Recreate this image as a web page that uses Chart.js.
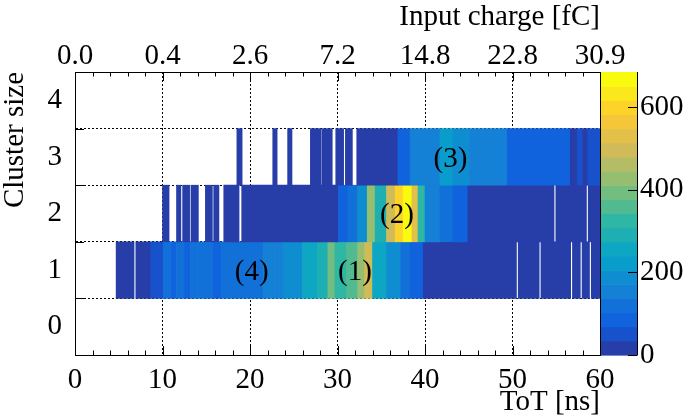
<!DOCTYPE html>
<html>
<head>
<meta charset="utf-8">
<script src="https://cdn.jsdelivr.net/npm/chart.js@4.4.0/dist/chart.umd.min.js"></script>
<style>
  html, body { margin: 0; padding: 0; background: #fff; }
  #wrap { width: 685px; height: 419px; }
</style>
</head>
<body>
<div id="wrap"><canvas id="tot-cluster"></canvas></div>
<script>
// axes
const totTicks = [0, 10, 20, 30, 40, 50, 60];
const chargeLabels = ['0.0', '0.4', '2.6', '7.2', '14.8', '22.8', '30.9'];
const clusterSizes = ['0', '1', '2', '3', '4'];
const zTicks = [0, 200, 400, 600];
const zMax = 685;
const nContours = 20;

// cluster size 1: bin edges in ns, entries per bin
const row1Edges = [4.7, 6.75, 6.95, 8.65, 10.1, 11.0, 11.6, 12.5, 13.2, 14.0, 15.0, 15.8, 16.7, 17.6, 18.5,
  20.0, 21.5, 22.8, 23.8, 24.8, 26.0, 27.7, 28.9, 29.7, 31.0, 32.3, 33.1, 34.0, 35.6, 37.2, 38.3, 39.8,
  50.45, 50.65, 53.05, 53.25, 56.65, 56.85, 57.75, 57.95, 58.8, 59.0, 60.0];
const row1Counts = [15, 0, 20, 60, 110, 95, 115, 100, 120, 105, 125, 100, 120, 105, 115,
  125, 140, 150, 190, 205, 260, 300, 400, 340, 360, 430, 495, 260, 190, 120, 80,
  25, 0, 22, 0, 18, 0, 15, 0, 14, 0, 12];

// cluster size 2
const row2Edges = [10.0, 10.75, 11.6, 12.1, 12.3, 13.1, 13.25, 14.1, 14.9, 15.7, 15.85, 16.45, 17.0, 18.75,
  19.05, 30.1, 31.2, 32.3, 33.4, 34.3, 35.6, 36.6, 37.5, 38.5, 39.2, 40.0, 41.7, 43.2, 44.9,
  54.75, 54.95, 58.45, 58.65, 60.0];
const row2Counts = [10, 0, 8, 0, 10, 0, 9, 0, 11, 0, 10, 0, 12, 0,
  20, 80, 120, 190, 430, 290, 495, 600, 675, 530, 325, 155, 120, 80,
  20, 0, 15, 0, 12];

// cluster size 3
const row3Edges = [18.5, 19.1, 22.6, 23.1, 24.3, 24.8, 26.9, 28.1, 28.2, 29.4, 29.8, 30.7, 30.9, 31.7,
  32.2, 36.9, 38.3, 40.0, 41.7, 43.2, 45.1, 49.4, 56.6, 57.4, 58.0, 58.6, 60.0];
const row3Counts = [8, 0, 8, 0, 8, 0, 10, 0, 10, 0, 12, 0, 12, 0,
  25, 100, 150, 170, 230, 190, 140, 70, 30, 55, 25, 40];

// peak labels
const annoText = ['(1)', '(2)', '(3)', '(4)'];
const annoToT = [32.0, 36.8, 42.9, 20.2];
const annoRow = ['1', '2', '3', '1'];

// ROOT kBird palette
const birdStops = [0, 0.125, 0.25, 0.375, 0.5, 0.625, 0.75, 0.875, 1];
const birdR = [0.2082, 0.0592, 0.0780, 0.0232, 0.1802, 0.5301, 0.8186, 0.9956, 0.9764];
const birdG = [0.1664, 0.3599, 0.5041, 0.6419, 0.7178, 0.7492, 0.7328, 0.7862, 0.9832];
const birdB = [0.5293, 0.8684, 0.8385, 0.7914, 0.6425, 0.4662, 0.3499, 0.1968, 0.0539];

function bird(t) {
  const k = Math.min(7, Math.floor(t * 8));
  const f = (t - birdStops[k]) / 0.125;
  const c = arr => Math.round(255 * (arr[k] + f * (arr[k + 1] - arr[k])));
  return `rgb(${c(birdR)},${c(birdG)},${c(birdB)})`;
}

function levelColor(lvl) {
  const idx = Math.floor((lvl + 0.99) * 255 / nContours);
  return bird(Math.min(254, idx) / 254);
}

function countColor(v) {
  return levelColor(Math.min(nContours - 1, Math.floor(v / (zMax / nContours))));
}

function rowBins(row, edges, counts) {
  const pts = [];
  counts.forEach((c, i) => {
    if (c > 0) pts.push({ y: row, x: [edges[i], edges[i + 1]], v: c });
  });
  return pts;
}

const cells = [].concat(
  rowBins('1', row1Edges, row1Counts),
  rowBins('2', row2Edges, row2Counts),
  rowBins('3', row3Edges, row3Counts)
);

const frameTicks = {
  id: 'frameTicks',
  afterDraw(chart) {
    const { ctx, chartArea: a, scales: { x, y } } = chart;
    ctx.save();
    ctx.strokeStyle = '#000';
    ctx.lineWidth = 1;
    ctx.beginPath();
    for (let t = 0; t <= 60; t += 2) {
      const px = Math.round(x.getPixelForValue(t)) + 0.5;
      const len = t % 10 === 0 ? 9 : 4.5;
      ctx.moveTo(px, a.bottom); ctx.lineTo(px, a.bottom - len);
      ctx.moveTo(px, a.top); ctx.lineTo(px, a.top + len);
    }
    for (let i = 0; i < clusterSizes.length - 1; i++) {
      const py = Math.round((y.getPixelForValue(i) + y.getPixelForValue(i + 1)) / 2) + 0.5;
      ctx.moveTo(a.left, py); ctx.lineTo(a.left + 9, py);
    }
    ctx.stroke();
    ctx.restore();
  }
};

const colorBar = {
  id: 'colorBar',
  afterDraw(chart) {
    const { ctx } = chart;
    const z = chart.scales.z;
    const x0 = z.left + 1, x1 = z.left + 37;
    const step = zMax / nContours;
    ctx.save();
    for (let i = 0; i < nContours; i++) {
      const yb = z.getPixelForValue(i * step);
      const yt = z.getPixelForValue((i + 1) * step);
      ctx.fillStyle = levelColor(i);
      ctx.fillRect(x0, yt, x1 - x0, yb - yt + 0.6);
    }
    ctx.strokeStyle = '#000';
    ctx.lineWidth = 1;
    ctx.beginPath();
    ctx.moveTo(x1 + 0.5, z.top); ctx.lineTo(x1 + 0.5, z.bottom);
    zTicks.forEach(v => {
      const py = Math.round(z.getPixelForValue(v)) + 0.5;
      ctx.moveTo(x1 + 0.5, py); ctx.lineTo(x1 - 9, py);
    });
    ctx.stroke();
    ctx.restore();
  }
};

const peakLabels = {
  id: 'peakLabels',
  afterDatasetsDraw(chart) {
    const { ctx, scales: { x, y } } = chart;
    ctx.save();
    ctx.fillStyle = '#000';
    ctx.font = '29px "Liberation Serif"';
    ctx.textAlign = 'center';
    ctx.textBaseline = 'middle';
    annoText.forEach((t, i) => {
      ctx.fillText(t, x.getPixelForValue(annoToT[i]), y.getPixelForValue(annoRow[i]) + 2);
    });
    ctx.restore();
  }
};

Chart.defaults.font.family = '"Liberation Serif", "Times New Roman", serif';
Chart.defaults.font.size = 29;
Chart.defaults.color = '#000';

new Chart(document.getElementById('tot-cluster'), {
  type: 'bar',
  data: {
    labels: clusterSizes.slice().reverse(),
    datasets: [{
      data: cells,
      backgroundColor: ctx => countColor(ctx.raw ? ctx.raw.v : 0),
      borderWidth: 0,
      borderSkipped: false,
      barPercentage: 1,
      categoryPercentage: 1
    }]
  },
  options: {
    indexAxis: 'y',
    responsive: true,
    maintainAspectRatio: false,
    animation: false,
    layout: { padding: 0 },
    plugins: { legend: { display: false }, tooltip: { enabled: false } },
    scales: {
      x: {
        type: 'linear', position: 'bottom', min: 0, max: 60, z: 1,
        afterBuildTicks: s => { s.ticks = totTicks.map(v => ({ value: v })); },
        afterFit: s => { s.height = 64; },
        ticks: { padding: 8, maxRotation: 0 },
        grid: { color: '#000', lineWidth: 1, drawTicks: false },
        border: { display: true, color: '#000', width: 1, dash: [2, 2] },
        title: { display: true, text: 'ToT [ns]', align: 'end', padding: { top: 0, bottom: -1 } }
      },
      x2: {
        type: 'linear', position: 'top', min: 0, max: 60,
        afterBuildTicks: s => { s.ticks = totTicks.map(v => ({ value: v })); },
        afterFit: s => { s.height = 72; },
        ticks: { padding: -2, maxRotation: 0, callback: (v, i) => chargeLabels[i] },
        grid: { drawOnChartArea: false, drawTicks: false },
        border: { display: true, color: '#000', width: 1 },
        title: { display: true, text: 'Input charge [fC]', align: 'end', padding: 0 }
      },
      y: {
        type: 'category', position: 'left', z: 1,
        afterFit: s => { s.width = 75; },
        ticks: { padding: 13 },
        grid: { color: '#000', lineWidth: 1, drawTicks: false },
        border: { display: true, color: '#000', width: 1, dash: [2, 2] },
        title: { display: true, text: 'Cluster size', align: 'end', padding: { top: -2, bottom: 0 } }
      },
      z: {
        type: 'linear', position: 'right', min: 0, max: zMax, offset: false,
        afterBuildTicks: s => { s.ticks = zTicks.map(v => ({ value: v })); },
        afterFit: s => { s.width = 85; },
        ticks: { padding: 40 },
        grid: { drawOnChartArea: false, drawTicks: false, offset: false },
        border: { display: true, color: '#000', width: 1 }
      }
    }
  },
  plugins: [peakLabels, colorBar, frameTicks]
});
</script>
</body>
</html>
